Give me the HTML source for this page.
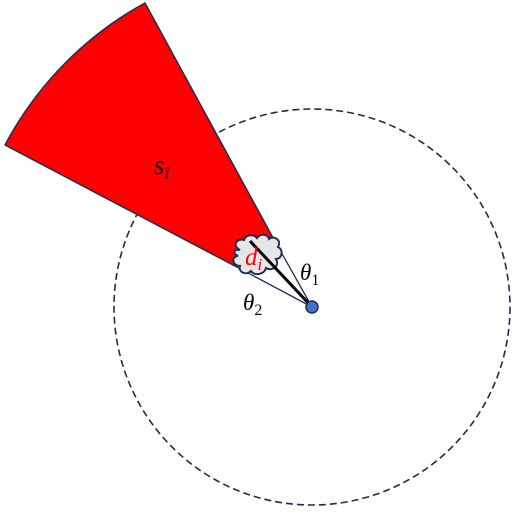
<!DOCTYPE html>
<html><head><meta charset="utf-8"><style>
html,body{margin:0;padding:0;background:#fff;width:514px;height:513px;overflow:hidden}
svg{display:block}
text{font-family:"Liberation Serif","DejaVu Serif",serif;font-style:italic}
</style></head><body>
<svg width="514" height="513" viewBox="0 0 514 513">
  <circle cx="312" cy="307" r="198" fill="none" stroke="#1f2d4e" stroke-width="1.6" stroke-dasharray="7,4"/>
  <path d="M272,236 L145,3 A347,347 0 0,0 5,145 L233,265 Z" fill="#ff0000" stroke="#1f2d4e" stroke-width="1.5" stroke-linejoin="round"/>
  <line x1="272" y1="236" x2="312" y2="307" stroke="#1f2d4e" stroke-width="1.3"/>
  <line x1="233" y1="265" x2="312" y2="307" stroke="#1f2d4e" stroke-width="1.3"/>
  <path fill="#e6e6e6" stroke="#1f2d4e" stroke-width="2"
    d="M240,250 C232,246 236,238 244,240 C246,234 254,234 257,238 C260,233 268,234 269,239 C274,235 282,240 278,247 C284,250 282,259 276,259 C280,266 272,272 266,268 C264,275 254,276 251,271 C246,276 238,272 240,266 C232,266 231,256 238,256 C232,253 234,249 240,250 Z"/>
  <line x1="250" y1="241" x2="312" y2="307" stroke="#000" stroke-width="3"/>
  <circle cx="312" cy="307" r="6" fill="#4472c4" stroke="#1f2d4e" stroke-width="1.5"/>
  <text x="154" y="174" font-size="27" fill="#000">s<tspan font-size="18" dy="5">i</tspan></text>
  <text x="245" y="265" font-size="25" fill="#ff0000">d<tspan font-size="17" dy="5">i</tspan></text>
  <text x="300" y="280" font-size="23" fill="#000">θ<tspan font-size="16" dy="5" font-style="normal">1</tspan></text>
  <text x="243" y="310" font-size="23" fill="#000">θ<tspan font-size="16" dy="5" font-style="normal">2</tspan></text>
</svg>
</body></html>
